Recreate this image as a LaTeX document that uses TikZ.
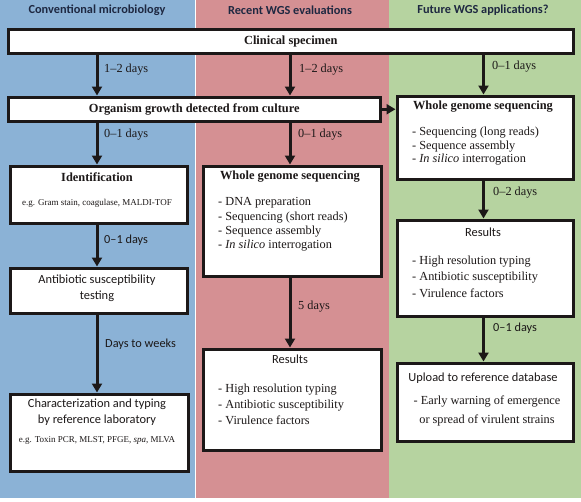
\documentclass[tikz,border=0pt]{standalone}
\usepackage{fontspec}
\setmainfont{Liberation Serif}
\setsansfont{Carlito}
\usetikzlibrary{arrows.meta}
\definecolor{bgblue}{RGB}{139,178,214}
\definecolor{bgred}{RGB}{213,144,147}
\definecolor{bggreen}{RGB}{182,211,160}
\definecolor{hdr}{RGB}{30,40,65}
\definecolor{ink}{RGB}{28,24,24}
\begin{document}
\begin{tikzpicture}[x=1pt,y=-1pt,
  box/.style={draw=ink, line width=3pt, fill=white, inner sep=0pt, anchor=north west},
  hdrtext/.style={font=\sffamily\bfseries\fontsize{12.3}{14}\selectfont, text=hdr},
  ttl/.style={font=\bfseries\fontsize{12.4}{15}\selectfont, text=ink},
  sttl/.style={font=\sffamily\fontsize{12.4}{16}\selectfont, text=ink, align=center},
  small/.style={font=\fontsize{9}{11}\selectfont, text=ink},
  lst/.style={font=\fontsize{12.3}{#1}\selectfont, text=ink, align=left, anchor=west, inner sep=0pt},
  lbl/.style={font=\fontsize{12.3}{14}\selectfont, text=ink, anchor=west, inner sep=0pt},
  slbl/.style={font=\sffamily\fontsize{12.3}{14}\selectfont, text=ink, anchor=west, inner sep=0pt},
  arr/.style={draw=ink, line width=3pt, -{Triangle[length=9pt,width=10pt]}}
]
\useasboundingbox (0,0) rectangle (581,501);
\fill[white] (0,0) rectangle (581,501);
\fill[bgblue] (0,0) rectangle (195.3,498);
\fill[bgred] (196.2,0) rectangle (389,498);
\fill[bggreen] (389,0) rectangle (581,498);

\node[hdrtext] (h1) at (97,10) {Conventional microbiology};
\node[hdrtext] (h2) at (290,10) {Recent WGS evaluations};
\node[hdrtext] (h3) at (483,10) {Future WGS applications?};

\coordinate (colA) at (97,0);
\coordinate (colB) at (290,0);
\coordinate (colC) at (483.5,0);

% boxes
\node[box, minimum width=565.5pt, minimum height=24pt, ttl] (clin) at (6.5,28) {Clinical specimen};
\node[box, minimum width=372.5pt, minimum height=24.5pt, ttl] (org) at (6.5,95.5) {Organism growth detected from culture};
\node[box, minimum width=176.5pt, minimum height=83.5pt] (gwgs) at (395.5,94.5) {};
\node[box, minimum width=176.5pt, minimum height=96.5pt] (gres) at (395.5,218.5) {};
\node[box, minimum width=176.5pt, minimum height=78.5pt] (gup) at (395.5,361.5) {};
\node[box, minimum width=177.5pt, minimum height=57.5pt] (ident) at (8.5,164.5) {};
\node[box, minimum width=177.5pt, minimum height=45.5pt] (anti) at (8.5,266.5) {};
\node[box, minimum width=178.5pt, minimum height=77.5pt] (char) at (8.5,392.5) {};
\node[box, minimum width=178.5pt, minimum height=110.5pt] (rwgs) at (201.5,164.5) {};
\node[box, minimum width=178.5pt, minimum height=101.5pt] (rres) at (201.5,347.5) {};

% arrows
\draw[arr] (clin.south -| colA) -- (org.north -| colA);
\draw[arr] (clin.south -| colB) -- (org.north -| colB);
\draw[arr] (clin.south -| colC) -- (gwgs.north -| colC);
\draw[arr] (org.east) -- (gwgs.west |- org.east);
\draw[arr] (org.south -| colA) -- (ident.north -| colA);
\draw[arr] (ident.south -| colA) -- (anti.north -| colA);
\draw[arr] (anti.south -| colA) -- (char.north -| colA);
\draw[arr] (org.south -| colB) -- (rwgs.north -| colB);
\draw[arr] (rwgs.south -| colB) -- (rres.north -| colB);
\draw[arr] (gwgs.south -| colC) -- (gres.north -| colC);
\draw[arr] (gres.south -| colC) -- (gup.north -| colC);

% arrow labels
\node[lbl] (l1) at (104,70) {1--2 days};
\node[lbl] (l2) at (299,70) {1--2 days};
\node[lbl] (l3) at (492,67) {0--1 days};
\node[lbl] (l4) at (104,135) {0--1 days};
\node[lbl] (l5) at (298,135) {0--1 days};
\node[slbl] (l6) at (104,240) {0--1 days};
\node[slbl] (l7) at (105,344) {Days to weeks};
\node[lbl] (l8) at (298,307) {5 days};
\node[lbl] (l9) at (493,193) {0--2 days};
\node[slbl] (l10) at (493,328) {0--1 days};

% blue column texts
\node[ttl] (identT) at (97,177) {Identification};
\node[small] (identS) at (97,203) {e.g. Gram stain, coagulase, MALDI-TOF};
\node[sttl] (antiT) at (97,288) {Antibiotic susceptibility\\testing};
\node[sttl] (charT) at (97,412) {Characterization and typing\\by reference laboratory};
\node[small] (charS) at (97,440) {e.g. Toxin PCR, MLST, PFGE, \textit{spa}, MLVA};

% red column texts
\node[ttl] (rwgsT) at (290,177) {Whole genome sequencing};
\node[lst=14.3] (rwgsL) at (218,224.5) {- DNA preparation\\- Sequencing (short reads)\\- Sequence assembly\\- \textit{In silico} interrogation};
\node[sttl] (rresT) at (290,359) {Results};
\node[lst=16] (rresL) at (218,404) {- High resolution typing\\- Antibiotic susceptibility\\- Virulence factors};

% green column texts
\node[ttl] (gwgsT) at (483,107) {Whole genome sequencing};
\node[lst=13.5] (gwgsL) at (412,146.5) {- Sequencing (long reads)\\- Sequence assembly\\- \textit{In silico} interrogation};
\node[sttl] (gresT) at (483,232) {Results};
\node[lst=16.5] (gresL) at (412,276.5) {- High resolution typing\\- Antibiotic susceptibility\\- Virulence factors};
\node[sttl] (gupT) at (483,378) {Upload to reference database};
\node[font=\fontsize{12.3}{19}\selectfont, text=ink, align=center, inner sep=0pt] (gupL) at (487,410.5) {- Early warning of emergence\\or spread of virulent strains};
\end{tikzpicture}
\end{document}
